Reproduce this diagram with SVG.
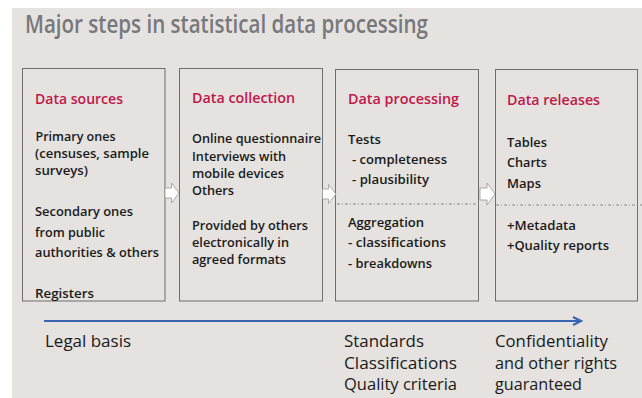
<svg xmlns="http://www.w3.org/2000/svg" width="642" height="398" viewBox="0 0 642 398">
<defs>
<style>
.bg{fill:#e5e2df}
.box{fill:#e5e2df;stroke:#6e6e6e;stroke-width:1}
.hd{font-family:"Open Sans","Noto Sans",sans-serif;font-weight:600;font-size:15px;fill:#c0174a}
.tx{font-family:"Open Sans","Noto Sans",sans-serif;font-weight:600;font-size:13px;fill:#1a1a1a}
.bt{font-family:"Open Sans","Noto Sans",sans-serif;font-weight:400;font-size:16px;fill:#1a1a1a}
.ttl{font-family:"Open Sans","Noto Sans",sans-serif;font-weight:600;font-size:26px;fill:#77787b}
.dot{stroke:#8a8a8a;stroke-width:1;stroke-dasharray:3 2 1 2;fill:none}
.blk{fill:#ffffff;stroke:#9a9a9a;stroke-width:0.8}
</style>
<marker id="chev" markerWidth="12" markerHeight="12" refX="9" refY="5" orient="auto" markerUnits="userSpaceOnUse">
<path d="M1,1 L9,5 L1,9" fill="none" stroke="#3a64b4" stroke-width="2.2"/>
</marker>
</defs>
<rect class="bg" x="12" y="8" width="630" height="390"/>
<text class="ttl" x="25" y="33" textLength="403" lengthAdjust="spacingAndGlyphs">Major steps in statistical data processing</text>

<g id="node-sources">
<rect class="box" x="22.5" y="68.5" width="142.5" height="232.5"/>
<text class="hd" x="35" y="104" textLength="88" lengthAdjust="spacingAndGlyphs">Data sources</text>
<text class="tx" x="35.5" y="141" textLength="80" lengthAdjust="spacingAndGlyphs">Primary ones</text>
<text class="tx" x="35" y="158" textLength="114" lengthAdjust="spacingAndGlyphs">(censuses, sample</text>
<text class="tx" x="35" y="175" textLength="53" lengthAdjust="spacingAndGlyphs">surveys)</text>
<text class="tx" x="35" y="216" textLength="98" lengthAdjust="spacingAndGlyphs">Secondary ones</text>
<text class="tx" x="35" y="237" textLength="70" lengthAdjust="spacingAndGlyphs">from public</text>
<text class="tx" x="35" y="257" textLength="124" lengthAdjust="spacingAndGlyphs">authorities &amp; others</text>
<text class="tx" x="35" y="298" textLength="59" lengthAdjust="spacingAndGlyphs">Registers</text>
</g>

<g id="node-collection">
<rect class="box" x="179.5" y="68.5" width="143" height="232.5"/>
<text class="hd" x="192" y="103" textLength="103" lengthAdjust="spacingAndGlyphs">Data collection</text>
<text class="tx" x="192" y="143" textLength="129" lengthAdjust="spacingAndGlyphs">Online questionnaire</text>
<text class="tx" x="192" y="161" textLength="94" lengthAdjust="spacingAndGlyphs">Interviews with</text>
<text class="tx" x="192" y="178" textLength="92" lengthAdjust="spacingAndGlyphs">mobile devices</text>
<text class="tx" x="192" y="195" textLength="42" lengthAdjust="spacingAndGlyphs">Others</text>
<text class="tx" x="192" y="230" textLength="116" lengthAdjust="spacingAndGlyphs">Provided by others</text>
<text class="tx" x="192" y="247" textLength="97" lengthAdjust="spacingAndGlyphs">electronically in</text>
<text class="tx" x="192" y="264" textLength="94" lengthAdjust="spacingAndGlyphs">agreed formats</text>
</g>

<g id="node-processing">
<rect class="box" x="335.5" y="69.5" width="143" height="231.5"/>
<text class="hd" x="348" y="104" textLength="111" lengthAdjust="spacingAndGlyphs">Data processing</text>
<text class="tx" x="348" y="144" textLength="33" lengthAdjust="spacingAndGlyphs">Tests</text>
<text class="tx" x="352" y="164" textLength="95" lengthAdjust="spacingAndGlyphs">- completeness</text>
<text class="tx" x="352" y="184" textLength="77" lengthAdjust="spacingAndGlyphs">- plausibility</text>
<line class="dot" x1="337" y1="204" x2="479" y2="204"/>
<text class="tx" x="348" y="227" textLength="76" lengthAdjust="spacingAndGlyphs">Aggregation</text>
<text class="tx" x="348" y="247" textLength="98" lengthAdjust="spacingAndGlyphs">- classifications</text>
<text class="tx" x="348" y="268" textLength="84" lengthAdjust="spacingAndGlyphs">- breakdowns</text>
</g>

<g id="node-releases">
<rect class="box" x="495.5" y="69.5" width="142" height="231.5"/>
<text class="hd" x="507" y="105" textLength="93" lengthAdjust="spacingAndGlyphs">Data releases</text>
<text class="tx" x="507" y="147" textLength="40" lengthAdjust="spacingAndGlyphs">Tables</text>
<text class="tx" x="507" y="167" textLength="40" lengthAdjust="spacingAndGlyphs">Charts</text>
<text class="tx" x="507" y="188" textLength="34" lengthAdjust="spacingAndGlyphs">Maps</text>
<line class="dot" x1="496" y1="205" x2="642" y2="205"/>
<text class="tx" x="507" y="230" textLength="69" lengthAdjust="spacingAndGlyphs">+Metadata</text>
<text class="tx" x="507" y="250" textLength="102" lengthAdjust="spacingAndGlyphs">+Quality reports</text>
</g>

<g id="connectors">
<path class="blk" d="M165,188 L171.5,188 L171.5,183 L179,193 L171.5,203 L171.5,198 L165,198 Z"/>
<path class="blk" d="M322.5,189 L328.5,189 L328.5,184.5 L336,194 L328.5,203.5 L328.5,199 L322.5,199 Z"/>
<path class="blk" d="M480,188 L487,188 L487,183 L495,194 L487,205 L487,200 L480,200 Z"/>
</g>

<g id="timeline">
<line x1="44" y1="321" x2="581" y2="321" stroke="#3a64b4" stroke-width="2.2" marker-end="url(#chev)"/>
<text class="bt" x="45" y="347" textLength="86" lengthAdjust="spacingAndGlyphs">Legal basis</text>
<text class="bt" x="344" y="347" textLength="80" lengthAdjust="spacingAndGlyphs">Standards</text>
<text class="bt" x="344" y="369" textLength="113" lengthAdjust="spacingAndGlyphs">Classifications</text>
<text class="bt" x="344" y="390" textLength="113" lengthAdjust="spacingAndGlyphs">Quality criteria</text>
<text class="bt" x="495" y="347" textLength="113" lengthAdjust="spacingAndGlyphs">Confidentiality</text>
<text class="bt" x="495" y="369" textLength="122" lengthAdjust="spacingAndGlyphs">and other rights</text>
<text class="bt" x="495" y="390" textLength="87" lengthAdjust="spacingAndGlyphs">guaranteed</text>
</g>
</svg>
